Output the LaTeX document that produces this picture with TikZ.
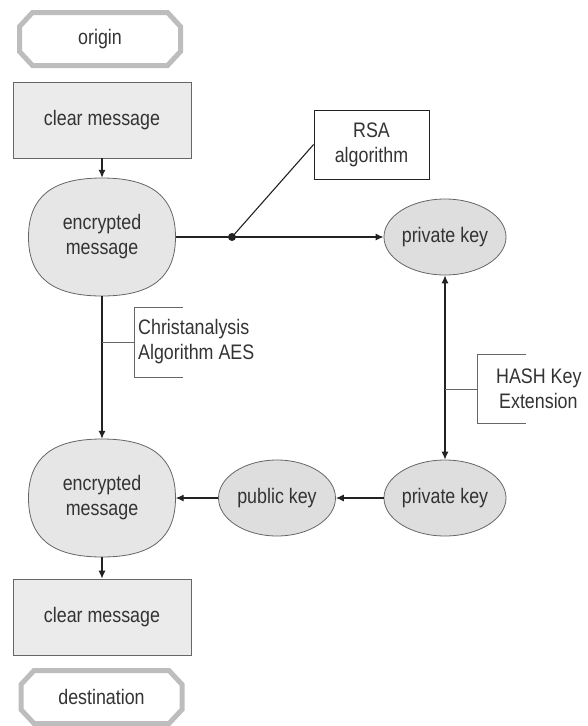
\documentclass[tikz,border=0pt]{standalone}
\usepackage{fontspec}
\setmainfont{Liberation Sans}[FakeStretch=0.85]
\usetikzlibrary{shapes.geometric,arrows.meta,calc}
\definecolor{txt}{HTML}{333333}
\definecolor{edge}{HTML}{666666}
\definecolor{fillg}{HTML}{E6E6E6}
\definecolor{keyg}{HTML}{DEDEDE}
\definecolor{octo}{HTML}{BDBDBD}
\definecolor{lin}{HTML}{222222}
\pgfdeclarelayer{bg}
\pgfsetlayers{bg,main}
% octagon frame around a named node
\newcommand{\octframe}[1]{%
  \begin{pgfonlayer}{bg}
  \draw[draw=octo, line width=5pt, fill=white, line join=miter]
    ($(#1)+(-67.5,-26.5)$) -- ($(#1)+(67.5,-26.5)$) -- ($(#1)+(80.5,-12.5)$) -- ($(#1)+(80.5,12.5)$)
    -- ($(#1)+(67.5,26.5)$) -- ($(#1)+(-67.5,26.5)$) -- ($(#1)+(-80.5,12.5)$) -- ($(#1)+(-80.5,-12.5)$) -- cycle;
  \end{pgfonlayer}}
% rounded oval around a named node
\newcommand{\encframe}[1]{%
  \begin{pgfonlayer}{bg}
  \draw[draw=edge, fill=fillg, line width=0.8pt]
    ($(#1)+(0,-59)$) .. controls ($(#1)+(50,-59)$) and ($(#1)+(73.5,-40)$) .. ($(#1)+(73.5,0)$)
    .. controls ($(#1)+(73.5,40)$) and ($(#1)+(50,59)$) .. ($(#1)+(0,59)$)
    .. controls ($(#1)+(-50,59)$) and ($(#1)+(-73.5,40)$) .. ($(#1)+(-73.5,0)$)
    .. controls ($(#1)+(-73.5,-40)$) and ($(#1)+(-50,-59)$) .. cycle;
  \end{pgfonlayer}}
\begin{document}
\begin{tikzpicture}[x=1pt,y=-1pt,
  every node/.style={font=\fontsize{21}{25}\selectfont, text=txt, inner sep=0pt},
  term/.style={rectangle, minimum width=161pt, minimum height=53pt},
  msgbox/.style={rectangle, draw=edge, fill=fillg!80!white, line width=0.8pt, minimum width=178pt, minimum height=76pt},
  encbox/.style={rectangle, minimum width=147pt, minimum height=118pt, align=center},
  keynode/.style={ellipse, draw=edge, fill=keyg, line width=0.8pt, minimum width=117pt, minimum height=76pt},
  algbox/.style={rectangle, draw=lin, fill=white, line width=0.8pt, minimum width=115pt, minimum height=69pt, align=center},
  conn/.style={draw=lin, line width=1.1pt},
  arr/.style={conn, -{Latex[length=8pt,width=7pt]}},
  darr/.style={conn, {Latex[length=8pt,width=7pt]}-{Latex[length=8pt,width=7pt]}},
  brk/.style={draw=edge, line width=1pt}
]
\useasboundingbox (0,0) rectangle (587,726);

\node[term] (origin) at (100,39) {origin};
\octframe{origin}
\node[msgbox] (cm1) at (102,120) {clear message};
\node[encbox] (em1) at (102,237) {encrypted\\message};
\encframe{em1}
\node[algbox] (rsa) at (371.5,144.5) {RSA\\algorithm};
\node[keynode] (pk1) at (445,237) {private key};
\node[keynode] (pk2) at (445,498) {private key};
\node[keynode] (pub) at (277,498) {public key};
\node[encbox] (em2) at (102,498) {encrypted\\message};
\encframe{em2}
\node[msgbox] (cm2) at (102,617) {clear message};
\node[term] (dest) at (101.5,697) {destination};
\octframe{dest}

\coordinate (dot) at (232,237);
\coordinate (aesb) at (102,342);
\coordinate (hashb) at (445,389);

% main flow
\draw[arr] (cm1.south) -- (em1.north);
\draw[conn] (em1.east) -- (dot);
\draw[arr] (dot) -- (pk1.west);
\draw[conn] (dot) -- (rsa.west);
\fill[lin] (dot) circle (4pt);
\draw[arr] (em1.south) -- (em2.north);
\draw[darr] (pk1.south) -- (pk2.north);
\draw[arr] (pk2.west) -- (pub.east);
\draw[arr] (pub.west) -- (em2.east);
\draw[arr] (em2.south) -- (cm2.north);

% AES annotation
\draw[brk] (aesb) -- (134,342);
\draw[brk] (183,307) -- (134,307) -- (134,377) -- (183,377);
\node[anchor=west, align=left] (aes) at (138,342) {Christanalysis\\Algorithm AES};

% HASH annotation
\draw[brk] (hashb) -- (477,389);
\draw[brk] (526,354) -- (477,354) -- (477,423) -- (526,423);
\node[anchor=west, align=left] (hash) at (496,389) {HASH Key\\\hspace{3pt}Extension};
\end{tikzpicture}
\end{document}
